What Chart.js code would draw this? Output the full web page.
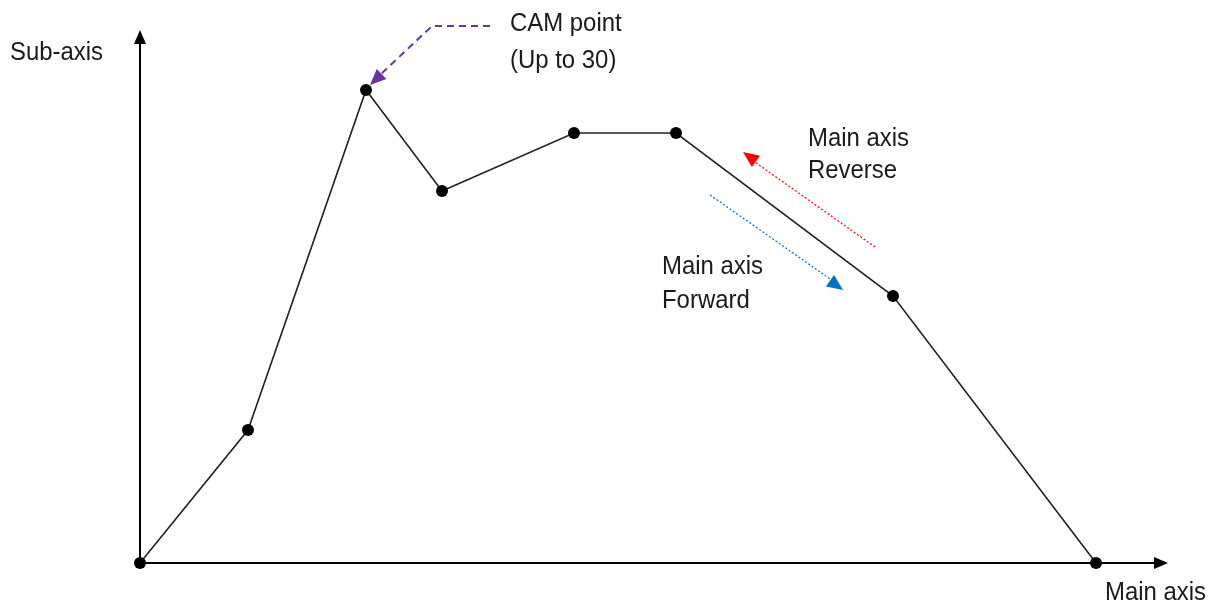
<!DOCTYPE html>
<html>
<head>
<meta charset="utf-8">
<script src="https://cdn.jsdelivr.net/npm/chart.js@4"></script>
<style>
  html, body { margin: 0; padding: 0; background: #fff; }
  #wrap { width: 1219px; height: 606px; position: relative; }
</style>
</head>
<body>
<div id="wrap"><canvas id="grafico"></canvas></div>
<script>
// cam points: main axis (x) vs sub-axis (y)
const mainAxis = [0, 108, 226, 302, 434, 536, 753, 956];
const subAxis  = [0, 133, 473, 372, 430, 430, 267, 0];
const xMax = 1028;
const yMax = 533;

const FONT = '26px "Liberation Sans", Arial, sans-serif';

// texts, in data units
const notes = [
  { text: 'Sub-axis', x: -130, y: 511 },
  { text: 'CAM point', x: 370, y: 540 },
  { text: '(Up to 30)', x: 370, y: 503 },
  { text: 'Main axis', x: 668, y: 425 },
  { text: 'Reverse', x: 668, y: 393 },
  { text: 'Main axis', x: 522, y: 297 },
  { text: 'Forward', x: 522, y: 263 },
  { text: 'Main axis', x: 965, y: -29 }
];

const grafico = document.getElementById('grafico');

function arrowHead(ctx, x1, y1, x2, y2, len, wid, color) {
  const a = Math.atan2(y2 - y1, x2 - x1);
  ctx.save();
  ctx.fillStyle = color;
  ctx.beginPath();
  ctx.moveTo(x2, y2);
  ctx.lineTo(x2 - len * Math.cos(a) + wid * Math.sin(a), y2 - len * Math.sin(a) - wid * Math.cos(a));
  ctx.lineTo(x2 - len * Math.cos(a) - wid * Math.sin(a), y2 - len * Math.sin(a) + wid * Math.cos(a));
  ctx.closePath();
  ctx.fill();
  ctx.restore();
}

const extras = {
  id: 'extras',
  beforeDatasetsDraw(chart) {
    const ctx = chart.ctx;
    const xs = chart.scales.x, ys = chart.scales.y;
    const px = v => xs.getPixelForValue(v);
    const py = v => ys.getPixelForValue(v);
    ctx.save();
    // axes
    ctx.strokeStyle = '#000';
    ctx.lineWidth = 2;
    ctx.beginPath();
    ctx.moveTo(px(0), py(0));
    ctx.lineTo(px(xMax) - 12, py(0));
    ctx.moveTo(px(0), py(0));
    ctx.lineTo(px(0), py(yMax) + 12);
    ctx.stroke();
    arrowHead(ctx, px(0), py(0), px(xMax), py(0), 14, 6, '#000');
    arrowHead(ctx, px(0), py(0), px(0), py(yMax), 14, 6, '#000');
    ctx.restore();
  },
  afterDatasetsDraw(chart) {
    const ctx = chart.ctx;
    const xs = chart.scales.x, ys = chart.scales.y;
    const px = v => xs.getPixelForValue(v);
    const py = v => ys.getPixelForValue(v);
    ctx.save();
    // purple dashed pointer to CAM point
    ctx.strokeStyle = '#7030A0';
    ctx.lineWidth = 2;
    ctx.setLineDash([7, 5]);
    ctx.beginPath();
    ctx.moveTo(px(350), py(537));
    ctx.lineTo(px(292), py(537));
    ctx.lineTo(px(240), py(488));
    ctx.stroke();
    ctx.setLineDash([]);
    arrowHead(ctx, px(292), py(537), px(230), py(478), 16, 7, '#7030A0');
    // red dotted reverse arrow
    ctx.lineWidth = 1.2;
    ctx.setLineDash([2, 2]);
    ctx.strokeStyle = '#FF0000';
    ctx.beginPath();
    ctx.moveTo(px(735), py(316));
    ctx.lineTo(px(612), py(403));
    ctx.stroke();
    ctx.setLineDash([]);
    arrowHead(ctx, px(735), py(316), px(603), py(411), 16, 7, '#FF0000');
    // blue dotted forward arrow
    ctx.setLineDash([2, 2]);
    ctx.strokeStyle = '#0070C0';
    ctx.beginPath();
    ctx.moveTo(px(570), py(368));
    ctx.lineTo(px(693), py(282));
    ctx.stroke();
    ctx.setLineDash([]);
    arrowHead(ctx, px(570), py(368), px(703), py(273), 16, 7, '#0070C0');
    // texts (slightly condensed like the original)
    ctx.fillStyle = '#1a1a1a';
    ctx.font = FONT;
    ctx.textBaseline = 'middle';
    ctx.textAlign = 'left';
    notes.forEach(n => {
      ctx.save();
      ctx.translate(px(n.x), py(n.y) + 1);
      ctx.scale(0.92, 1);
      ctx.fillText(n.text, 0, 0);
      ctx.restore();
    });
    ctx.restore();
  }
};

const data = {
  datasets: [{
    label: 'CAM',
    data: mainAxis.map((v, i) => ({ x: v, y: subAxis[i] })),
    borderColor: '#222',
    borderWidth: 1.6,
    pointRadius: 6,
    pointBackgroundColor: '#000',
    pointBorderColor: '#000',
    pointBorderWidth: 0,
    tension: 0,
    clip: false
  }]
};

const config = {
  type: 'line',
  data: data,
  options: {
    responsive: true,
    maintainAspectRatio: false,
    animation: false,
    layout: { padding: { left: 140, right: 51, top: 30, bottom: 43 } },
    scales: {
      x: { type: 'linear', min: 0, max: xMax, display: false },
      y: { type: 'linear', min: 0, max: yMax, display: false }
    },
    plugins: {
      legend: { display: false },
      tooltip: { enabled: false }
    }
  },
  plugins: [extras]
};

const grafico_1 = new Chart(grafico, config);
</script>
</body>
</html>
